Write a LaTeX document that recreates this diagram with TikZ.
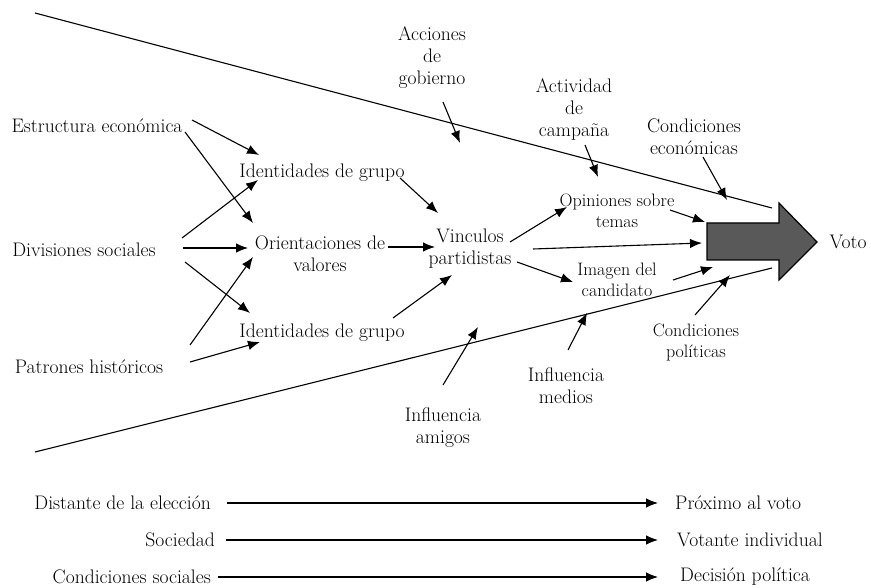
\documentclass[tikz,border=0pt]{standalone}
\usetikzlibrary{arrows.meta}
\begin{document}
\begin{tikzpicture}[x=1pt,y=-1pt,
  lbl/.style={font=\fontsize{19.6}{22}\selectfont, align=center, inner sep=0pt},
  slbl/.style={font=\fontsize{18}{21}\selectfont, align=center, inner sep=0pt},
  arr/.style={line width=1.1pt, -{Latex[length=12pt,width=9.5pt]}},
  ln/.style={line width=1.1pt},
  bigarrow/.style={draw=black, line width=1.2pt, fill=black!65}]
\useasboundingbox (0,0) rectangle (871,588);

% text nodes
\node[lbl] (estr) at (97,126) {Estructura económica};
\node[lbl] (divs) at (84,250) {Divisiones sociales};
\node[lbl] (patr) at (89,367) {Patrones históricos};
\node[lbl] (idg1) at (322,173) {Identidades de grupo};
\node[lbl] (orv) at (320,254) {Orientaciones de\\valores};
\node[lbl] (idg2) at (322,333) {Identidades de grupo};
\node[lbl] (vinc) at (470,249) {Vinculos\\partidistas};
\node[slbl] (opin) at (617,211) {Opiniones sobre\\temas};
\node[slbl] (imag) at (617,280) {Imagen del\\candidato};
\node[lbl] (acc) at (432,58) {Acciones\\de\\gobierno};
\node[lbl] (act) at (574,109) {Actividad\\de\\campaña};
\node[lbl] (cecon) at (694,137) {Condiciones\\económicas};
\node[slbl] (cpol) at (696,342) {Condiciones\\políticas};
\node[lbl] (imed) at (566,386) {Influencia\\medios};
\node[lbl] (iami) at (443,428) {Influencia\\amigos};
\node[lbl] (voto) at (848,242) {Voto};

\node[lbl, anchor=east] (dist) at (211,503) {Distante de la elección};
\node[lbl, anchor=west] (prox) at (675,503) {Próximo al voto};
\node[lbl, anchor=east] (soc) at (215,540) {Sociedad};
\node[lbl, anchor=west] (vot) at (677,540) {Votante individual};
\node[lbl, anchor=east] (csoc) at (211,577) {Condiciones sociales};
\node[lbl, anchor=west] (dec) at (680,577) {Decisión política};

% funnel lines
\coordinate (tl0) at (35,13);  \coordinate (tl1) at (772,208);
\coordinate (bl0) at (35,452); \coordinate (bl1) at (772,268);
\draw[ln] (tl0) -- (tl1);
\draw[ln] (bl0) -- (bl1);

% big arrow
\draw[bigarrow] (707,223) -- (779,223) -- (779,203) -- (817,242) -- (779,280) -- (779,260) -- (707,260) -- cycle;

% arrow end points
\coordinate (a1s) at (192,120); \coordinate (a1e) at (259,155);
\coordinate (a2s) at (185,132); \coordinate (a2e) at (253,223);
\coordinate (a3s) at (182,238); \coordinate (a3e) at (258,180);
\coordinate (a4s) at (183,248); \coordinate (a4e) at (248,248);
\coordinate (a5s) at (185,262); \coordinate (a5e) at (250,313);
\coordinate (a6s) at (190,345); \coordinate (a6e) at (253,257);
\coordinate (a7s) at (190,362); \coordinate (a7e) at (260,342);
\coordinate (a8s) at (400,178); \coordinate (a8e) at (438,213);
\coordinate (a9s) at (388,247); \coordinate (a9e) at (435,247);
\coordinate (a10s) at (393,318); \coordinate (a10e) at (452,275);
\coordinate (a11s) at (510,242); \coordinate (a11e) at (567,207);
\coordinate (a12s) at (533,249); \coordinate (a12e) at (702,243);
\coordinate (a13s) at (517,262); \coordinate (a13e) at (573,282);
\coordinate (a14s) at (670,210); \coordinate (a14e) at (705,222);
\coordinate (a15s) at (673,280); \coordinate (a15e) at (713,267);
\coordinate (a16s) at (585,145); \coordinate (a16e) at (598,177);
\coordinate (a17s) at (703,157); \coordinate (a17e) at (727,200);
\coordinate (a18s) at (695,315); \coordinate (a18e) at (730,275);
\coordinate (a19s) at (568,350); \coordinate (a19e) at (587,313);
\coordinate (a20s) at (443,385); \coordinate (a20e) at (478,327);
\coordinate (a21s) at (443,102); \coordinate (a21e) at (460,143);

\foreach \i in {1,...,21} { \draw[arr] (a\i s) -- (a\i e); }

% bottom scale arrows
\draw[arr] ([xshift=16pt]dist.east) -- ([xshift=-17pt]prox.west);
\draw[arr] ([xshift=11pt]soc.east) -- ([xshift=-19pt]vot.west);
\draw[arr] ([xshift=7pt]csoc.east) -- ([xshift=-22pt]dec.west);
\end{tikzpicture}
\end{document}
